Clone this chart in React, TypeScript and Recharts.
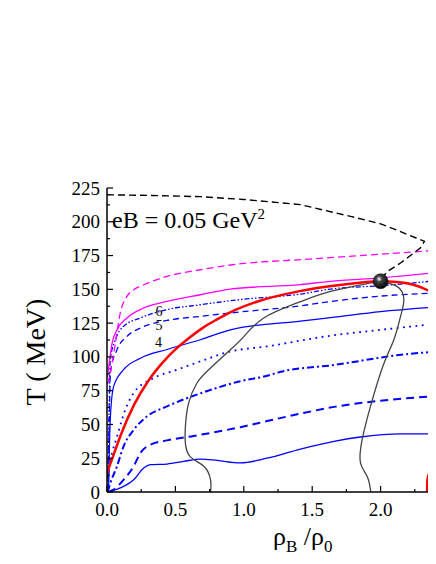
import { LineChart, Line, XAxis, YAxis, ReferenceDot } from 'recharts'

// [rho_B/rho_0, T (MeV)]
const boundaryDash = [[0, 220], [0.3, 219.5], [0.683, 218.6], [1.0, 216.5], [1.414, 212.7], [1.78, 204], [2.0, 198.5], [2.15, 192.5], [2.26, 188], [2.32, 185.5], [2.29, 180.6], [2.146, 169.5], [2.05, 163.3], [2.0, 157]]
const magentaDash = [[0.005, 80], [0.024, 88], [0.061, 110], [0.097, 132.5], [0.146, 144.8], [0.195, 149.7], [0.268, 153.4], [0.439, 159.6], [0.683, 164.5], [0.902, 168], [1.5, 172.5], [2.0, 176], [2.42, 179]]
const magentaSolid = [[0.003, 85], [0.012, 92], [0.037, 110], [0.073, 120], [0.146, 128.8], [0.268, 136.2], [0.439, 141], [0.683, 146], [0.902, 150.2], [1.414, 153.5], [1.634, 155.9], [2.0, 158.5], [2.42, 162.5]]
const redMain = [[0, 14], [0.05, 28], [0.1, 42], [0.2, 65], [0.3, 82], [0.4, 95], [0.5, 105.5], [0.6, 114], [0.7, 121.5], [0.8, 127.5], [0.9, 133], [1.1, 141], [1.4, 148.5], [1.7, 153.2], [2.0, 156], [2.12, 155.5], [2.24, 153.4], [2.34, 149.5], [2.42, 144.5]]
const redRight = [[2.34, 0], [2.342, 9], [2.365, 16.5], [2.39, 26], [2.41, 38.7], [2.43, 50]]
const blue6 = [[0.005, 0], [0.012, 40], [0.018, 75], [0.024, 98], [0.061, 112.7], [0.121, 122.6], [0.244, 128.8], [0.439, 135], [0.683, 138.6], [0.963, 142.3], [1.414, 146.5], [1.634, 150.2], [2.0, 152.7], [2.42, 156.5]]
const blue5 = [[0.008, 0], [0.015, 40], [0.02, 70], [0.024, 88], [0.073, 105.3], [0.146, 115.2], [0.244, 121.4], [0.439, 127], [0.683, 130], [0.902, 132.5], [1.414, 137.8], [1.634, 141], [2.0, 145], [2.42, 147.3]]
const blue4 = [[0.006, 0], [0.012, 4], [0.017, 29], [0.024, 53.5], [0.048, 78], [0.121, 90.5], [0.244, 99], [0.439, 105.5], [0.683, 112.7], [0.902, 120], [1.414, 126.5], [1.634, 129], [2.0, 133.5], [2.42, 137]]
const blueDot = [[0.005, 0], [0.012, 16.5], [0.04, 30], [0.073, 41], [0.134, 61], [0.195, 73.3], [0.317, 83], [0.512, 90.5], [0.683, 96.7], [0.902, 104], [1.17, 107.8], [1.634, 115.7], [2.0, 120], [2.42, 124.6]]
const blueDashDot = [[0.005, 0], [0.025, 6.7], [0.073, 19], [0.121, 33.8], [0.195, 46], [0.293, 56], [0.439, 63.4], [0.683, 73], [0.975, 82], [1.17, 86], [1.27, 89], [1.66, 94], [2.15, 101.6], [2.42, 104]]
const blueDash = [[0.01, 0], [0.048, 1.7], [0.121, 9], [0.195, 19], [0.244, 28.9], [0.317, 35], [0.439, 38.2], [0.634, 41.5], [0.975, 48], [1.17, 52.5], [1.414, 58], [1.66, 63], [2.15, 69], [2.42, 71]]
const blueLow = [[0.01, 0], [0.025, 0.5], [0.097, 3], [0.195, 9], [0.268, 17.8], [0.317, 20.2], [0.439, 20.7], [0.56, 22.6], [0.683, 24.4], [0.805, 23.4], [0.975, 21.5], [1.17, 25], [1.414, 31.8], [1.66, 37.5], [1.853, 40.7], [2.15, 43], [2.42, 43]]
const grayLine = [[0.757, 0], [0.757, 9], [0.708, 19], [0.61, 26], [0.573, 36], [0.573, 48.5], [0.597, 66], [0.658, 80.7], [0.743, 90.5], [0.902, 105.3], [1.0, 115], [1.146, 128.8], [1.39, 139.9], [1.634, 148.5], [1.926, 154.7], [2.0, 155.5], [2.12, 152.2], [2.17, 142.3], [2.146, 130], [2.097, 112.7], [2.02, 94], [1.926, 63.4], [1.865, 38.7], [1.853, 21.5], [1.902, 11.5], [1.926, 1.7], [1.93, 0]]
const cep = [2.0, 156]

const xTicks = [0, 0.25, 0.5, 0.75, 1.0, 1.25, 1.5, 1.75, 2.0, 2.25, 2.5]
const xMajor = [0, 0.5, 1.0, 1.5, 2.0, 2.5]
const xLabelled = [0, 0.5, 1.0, 1.5, 2.0]
const yTicks = [0, 12.5, 25, 37.5, 50, 62.5, 75, 87.5, 100, 112.5, 125, 137.5, 150, 162.5, 175, 187.5, 200, 212.5, 225]
const yMajor = [0, 25, 50, 75, 100, 125, 150, 175, 200, 225]

const serif = '"Liberation Serif", "Times New Roman", serif'

const pts = (arr: number[][]) => arr.map(([x, t]) => ({ x, t }))

function BottomTick(props: any) {
  const { x, y, payload } = props
  const major = xMajor.includes(payload.value)
  return (
    <g>
      <line x1={x} x2={x} y1={y} y2={y - (major ? 6 : 3)} stroke="#000" strokeWidth={1.2} />
      {xLabelled.includes(payload.value) && (
        <text x={x} y={y + 24} textAnchor="middle" fontSize={19} fontFamily={serif} fill="#000">
          {payload.value.toFixed(1)}
        </text>
      )}
    </g>
  )
}

function TopTick(props: any) {
  const { x, y, payload } = props
  const major = xMajor.includes(payload.value)
  return <line x1={x} x2={x} y1={y} y2={y + (major ? 6 : 3)} stroke="#000" strokeWidth={1.2} />
}

function LeftTick(props: any) {
  const { x, y, payload } = props
  const major = yMajor.includes(payload.value)
  return (
    <g>
      <line x1={x} x2={x + (major ? 6 : 3)} y1={y} y2={y} stroke="#000" strokeWidth={1.2} />
      {major && (
        <text x={x - 7} y={y + 6.5} textAnchor="end" fontSize={19} fontFamily={serif} fill="#000">
          {payload.value}
        </text>
      )}
    </g>
  )
}

export default function App() {
  return (
    <div style={{ position: 'relative', width: 428, height: 556, overflow: 'hidden', fontFamily: serif }}>
      <LineChart width={446} height={556} margin={{ top: 180, right: 5, left: 0, bottom: 0 }}>
        <defs>
          <radialGradient id="ball" cx="40%" cy="35%" r="65%">
            <stop offset="0%" stopColor="#ffffff" />
            <stop offset="30%" stopColor="#444444" />
            <stop offset="100%" stopColor="#000000" />
          </radialGradient>
        </defs>
        <XAxis
          type="number"
          dataKey="x"
          domain={[0, 2.5]}
          ticks={xTicks}
          interval={0}
          height={72}
          tickSize={0}
          tickMargin={0}
          tickLine={false}
          axisLine={{ stroke: '#000', strokeWidth: 1.5 }}
          tick={BottomTick}
          allowDataOverflow
        />
        <XAxis
          xAxisId="top"
          orientation="top"
          type="number"
          dataKey="x"
          domain={[0, 2.5]}
          ticks={xTicks}
          interval={0}
          height={0}
          tickSize={0}
          tickMargin={0}
          tickLine={false}
          axisLine={{ stroke: '#000', strokeWidth: 1.5 }}
          tick={TopTick}
          allowDataOverflow
        />
        <YAxis
          type="number"
          dataKey="t"
          domain={[0, 225]}
          ticks={yTicks}
          interval={0}
          width={99}
          tickSize={0}
          tickMargin={0}
          tickLine={false}
          axisLine={{ stroke: '#000', strokeWidth: 1.5 }}
          tick={LeftTick}
          allowDataOverflow
        />

        {/* blue family, lowest first */}
        <Line data={pts(blueLow)} dataKey="t" type="monotone" stroke="#0000ff" strokeWidth={1.3} dot={false} isAnimationActive={false} />
        <Line data={pts(blueDash)} dataKey="t" type="monotone" stroke="#0000ff" strokeWidth={2} strokeDasharray="8 5" dot={false} isAnimationActive={false} />
        <Line data={pts(blueDashDot)} dataKey="t" type="monotone" stroke="#0000ff" strokeWidth={2} strokeDasharray="7 3 2 3" dot={false} isAnimationActive={false} />
        <Line data={pts(blueDot)} dataKey="t" type="monotone" stroke="#0000ff" strokeWidth={1.8} strokeDasharray="1.8 4.5" dot={false} isAnimationActive={false} />
        <Line data={pts(blue4)} dataKey="t" type="monotone" stroke="#0000ff" strokeWidth={1.2} dot={false} isAnimationActive={false} />
        <Line data={pts(blue5)} dataKey="t" type="monotone" stroke="#0000ff" strokeWidth={1.3} strokeDasharray="6 4" dot={false} isAnimationActive={false} />
        <Line data={pts(blue6)} dataKey="t" type="monotone" stroke="#0000ff" strokeWidth={1.3} strokeDasharray="5 2 1.5 2 1.5 2" dot={false} isAnimationActive={false} />

        {/* magenta */}
        <Line data={pts(magentaSolid)} dataKey="t" type="monotone" stroke="#ff00ff" strokeWidth={1.3} dot={false} isAnimationActive={false} />
        <Line data={pts(magentaDash)} dataKey="t" type="monotone" stroke="#ff00ff" strokeWidth={1.3} strokeDasharray="7 4" dot={false} isAnimationActive={false} />

        {/* gray contour */}
        <Line data={pts(grayLine)} dataKey="t" type="natural" stroke="#444444" strokeWidth={1.3} dot={false} isAnimationActive={false} />

        {/* red phase boundary */}
        <Line data={pts(redMain)} dataKey="t" type="monotone" stroke="#ff0000" strokeWidth={2.5} dot={false} isAnimationActive={false} />
        <Line data={pts(redRight)} dataKey="t" type="monotone" stroke="#ff0000" strokeWidth={2.5} dot={false} isAnimationActive={false} />

        {/* black dashed */}
        <Line data={pts(boundaryDash)} dataKey="t" type="linear" stroke="#000000" strokeWidth={1.4} strokeDasharray="7 4" dot={false} isAnimationActive={false} />

        <ReferenceDot x={cep[0]} y={cep[1]} r={7.5} fill="url(#ball)" stroke="#000" strokeWidth={0.5} />
      </LineChart>

      <svg width={428} height={556} style={{ position: 'absolute', left: 0, top: 0, pointerEvents: 'none' }}>
        <text x={104} y={220} fontSize={24} fontFamily={serif} fill="#000">
          eB = 0.05 GeV<tspan fontSize={15} dy={-9}>2</tspan>
        </text>
        <text x={151} y={308} fontSize={14} fontFamily={serif} textAnchor="middle">6</text>
        <text x={151} y={321.5} fontSize={14} fontFamily={serif} textAnchor="middle">5</text>
        <text x={150.5} y={339} fontSize={14} fontFamily={serif} textAnchor="middle">4</text>
        <text x={37} y={344} fontSize={28} fontFamily={serif} textAnchor="middle" transform="rotate(-90, 37, 344)">
          T ( MeV)
        </text>
        <text x={265} y={537} fontSize={26} fontFamily={serif}>
          ρ<tspan fontSize={17} dy={7}>B</tspan><tspan dy={-7}> /ρ</tspan><tspan fontSize={17} dy={7}>0</tspan>
        </text>
      </svg>
    </div>
  )
}
